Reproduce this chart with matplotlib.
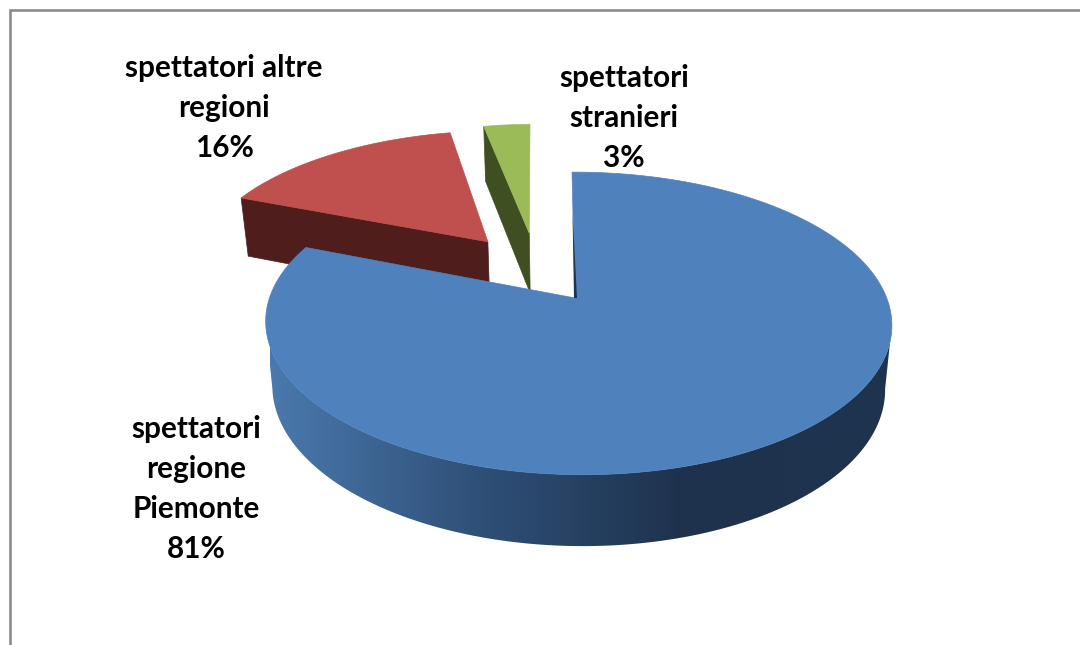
import numpy as np
import matplotlib
matplotlib.use("Agg")
import matplotlib.pyplot as plt
from matplotlib.colors import LinearSegmentedColormap
from matplotlib.patches import Polygon

plt.rcParams["font.family"] = ["Lato", "DejaVu Sans"]

# data
labels = ["spettatori\nregione\nPiemonte", "spettatori altre\nregioni", "spettatori\nstranieri"]
values = [81, 16, 3]
top_colors = ["#4f81bd", "#c0504d", "#9bbb59"]
side_colors = [None, "#4f1e1c", "#3f4f22"]

# where each slice sits on the pie plane (explosion), and small per-slice turn
offsets = [(0.0, 0.0), (-0.298, 0.41), (-0.155, 0.477)]
turns = [0.0, 0.0, -0.6]
label_pos = [(196, 489), (224, 108), (624, 118)]

side_cmap = LinearSegmentedColormap.from_list("side", ["#4a79ad", "#2f5078", "#1e324d", "#1f344f"])


def project(x, y, bottom=False):
    # perspective mapping of the pie plane to screen pixels
    w = 1 + 0.168 * y - 0.01 * x
    if bottom:
        return 575 + (302 * x - 3.5 * y) / w, 361 - 154 * y / w
    return 575 + (308.6 * x - 3.5 * y) / w, 298 - 147 * y / w


def slice_arc(start, end, off, n=200):
    t = np.radians(np.linspace(start, end, n))
    return np.sin(t) + off[0], np.cos(t) + off[1]


fig = plt.figure(figsize=(10.8, 6.45), dpi=100)
ax = fig.add_axes([0, 0, 1, 1])
ax.axis("off")

# frame, only top and left edges are inside the picture
ax.plot([1080, 9.5, 9.5], [10, 10, 645], color="#8c8c8c", lw=1.9, solid_joinstyle="miter", zorder=1)

fractions = np.array(values) / sum(values)
ends = np.cumsum(fractions) * 360
starts = ends - fractions * 360

# back slices first, blue one last
z = 2
for i in [1, 2, 0]:
    a0, a1 = starts[i] + turns[i], ends[i] + turns[i]
    off = offsets[i]
    ax_, ay_ = slice_arc(a0, a1, off)
    tx, ty = project(ax_, ay_)
    bx, by = project(ax_, ay_, bottom=True)
    px, py = project(off[0], off[1])
    qx, qy = project(off[0], off[1], bottom=True)

    if side_colors[i] is not None:
        # the cut face turned to the viewer
        ax.add_patch(Polygon([(tx[0], ty[0]), (px, py), (qx, qy), (bx[0], by[0])],
                             fc=side_colors[i], ec=side_colors[i], lw=0.5, zorder=z))
    else:
        # outer wall, shaded along x, clipped to the front part of the rim
        wx, wy = slice_arc(100, 260, off)
        rim_tx, rim_ty = project(wx, wy)
        rim_bx, rim_by = project(wx, wy, bottom=True)
        rim = Polygon(np.column_stack([np.r_[rim_tx, rim_bx[::-1]], np.r_[rim_ty, rim_by[::-1]]]),
                      transform=ax.transData, fc="none", ec="none")
        ax.add_patch(rim)
        grad = ax.imshow(np.linspace(0, 1, 512).reshape(1, -1), cmap=side_cmap, aspect="auto",
                         extent=(270, 890, 560, 300), zorder=z, interpolation="bilinear")
        grad.set_clip_path(rim)

    ax.add_patch(Polygon(np.column_stack([np.r_[px, tx], np.r_[py, ty]]),
                         fc=top_colors[i], ec=top_colors[i], lw=0.5, zorder=z + 1))
    if side_colors[i] is None:
        # thin dark sliver of the blue cut face along its straight edge
        ax.add_patch(Polygon([(tx[0] + 0.5, ty[0] + 40), (px - 1, py), (px + 2, py)],
                             fc="#1f344f", ec="none", zorder=z + 2))
    z += 3

ax.set_xlim(0, 1080)
ax.set_ylim(645, 0)

for lab, v, (x, y) in zip(labels, values, label_pos):
    ax.text(x, y, f"{lab}\n{v}%", ha="center", va="center", fontsize=21.4,
            fontweight="bold", color="black", linespacing=1.52, zorder=20)

fig.savefig("out.png", dpi=100)
